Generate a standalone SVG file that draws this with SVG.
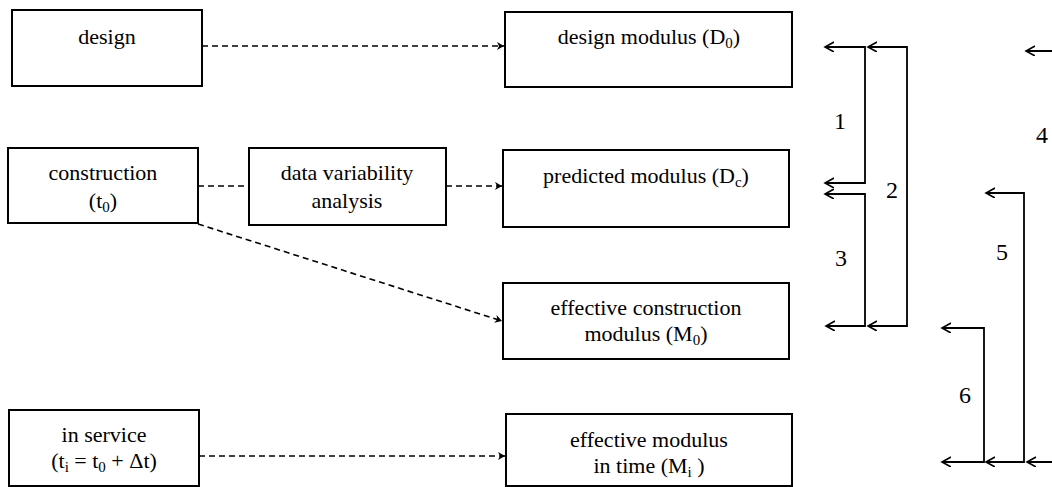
<svg xmlns="http://www.w3.org/2000/svg" width="1052" height="487" viewBox="0 0 1052 487">
<style>
.box{fill:#fff;stroke:#000;stroke-width:2}
text{fill:#000;text-anchor:middle;font-family:'Liberation Serif','Times New Roman',serif}
.t{font-size:22px}
.lbl{font-size:24px}
.dash{fill:none;stroke:#000;stroke-width:1.6;stroke-dasharray:6 4}
.br{fill:none;stroke:#000;stroke-width:1.8}
.sub{font-size:15px}
</style>
<defs>
<marker id="dh" markerWidth="10" markerHeight="10" refX="7" refY="4" orient="auto" markerUnits="userSpaceOnUse">
<path d="M0,0 L7,4 L0,8 L2,4 Z" fill="#000"/>
</marker>
<marker id="oh" markerWidth="12" markerHeight="12" refX="9" refY="5" orient="auto-start-reverse" markerUnits="userSpaceOnUse">
<path d="M0,0 L9,5 L0,10" fill="none" stroke="#000" stroke-width="1.6"/>
</marker>
</defs>

<g id="n-design"><rect class="box" x="12" y="10" width="190" height="76"/><text class="t" x="107" y="44">design</text></g>
<g id="n-design-modulus"><rect class="box" x="505" y="12" width="287" height="75"/><text class="t" x="649" y="44">design modulus (D<tspan class="sub" dy="4">0</tspan><tspan dy="-4">)</tspan></text></g>
<g id="n-construction"><rect class="box" x="8" y="148" width="190" height="75"/><text class="t" x="103" y="180">construction</text><text class="t" x="103" y="208">(t<tspan class="sub" dy="4">0</tspan><tspan dy="-4">)</tspan></text></g>
<g id="n-data-variability"><rect class="box" x="249" y="148" width="197" height="77"/><text class="t" x="347" y="180">data variability</text><text class="t" x="347" y="208">analysis</text></g>
<g id="n-predicted"><rect class="box" x="503" y="150" width="286" height="77"/><text class="t" x="646" y="183">predicted modulus (D<tspan class="sub" dy="4">c</tspan><tspan dy="-4">)</tspan></text></g>
<g id="n-effective-construction"><rect class="box" x="503" y="283" width="286" height="76"/><text class="t" x="646" y="315">effective construction</text><text class="t" x="646" y="341">modulus (M<tspan class="sub" dy="4">0</tspan><tspan dy="-4">)</tspan></text></g>
<g id="n-in-service"><rect class="box" x="9" y="410" width="190" height="76"/><text class="t" x="104" y="442">in service</text><text class="t" x="104" y="468">(t<tspan class="sub" dy="4">i</tspan><tspan dy="-4"> = t</tspan><tspan class="sub" dy="4">0</tspan><tspan dy="-4"> + Δt)</tspan></text></g>
<g id="n-effective-time"><rect class="box" x="506" y="414" width="286" height="72"/><text class="t" x="649" y="447">effective modulus</text><text class="t" x="649" y="473">in time (M<tspan class="sub" dy="4">i</tspan><tspan dy="-4"> )</tspan></text></g>

<g id="connectors">
<path class="dash" d="M202,46 L504,46" marker-end="url(#dh)"/>
<path class="dash" d="M198,186 L249,186"/>
<path class="dash" d="M446,186 L502,186" marker-end="url(#dh)"/>
<path class="dash" d="M198,224 L502,321" marker-end="url(#dh)"/>
<path class="dash" d="M199,456 L505,456" marker-end="url(#dh)"/>

<path class="br" d="M825,47 L865,47 L865,183 L825,183" marker-start="url(#oh)" marker-end="url(#oh)"/>
<path class="br" d="M868,47 L907,47 L907,326 L868,326" marker-start="url(#oh)" marker-end="url(#oh)"/>
<path class="br" d="M825,194 L865,194 L865,326 L826,326" marker-start="url(#oh)" marker-end="url(#oh)"/>
<path class="br" d="M1026,51 L1062,51 L1062,462 L1027,462" marker-start="url(#oh)" marker-end="url(#oh)"/>
<path class="br" d="M986,193 L1024,193 L1024,462 L986,462" marker-start="url(#oh)" marker-end="url(#oh)"/>
<path class="br" d="M942,328 L984,328 L984,462 L942,462" marker-start="url(#oh)" marker-end="url(#oh)"/>

<text class="lbl" x="840" y="129">1</text>
<text class="lbl" x="892" y="198">2</text>
<text class="lbl" x="841" y="266">3</text>
<text class="lbl" x="1042" y="143">4</text>
<text class="lbl" x="1002" y="260">5</text>
<text class="lbl" x="965" y="403">6</text>
</g>
</svg>
